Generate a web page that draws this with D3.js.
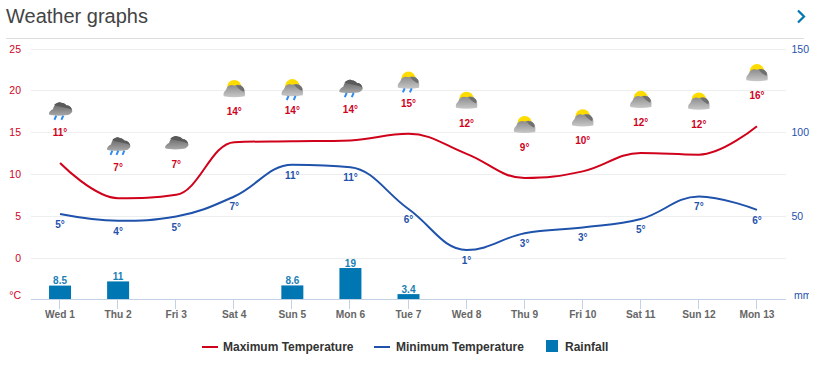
<!DOCTYPE html>
<html><head><meta charset="utf-8">
<script src="https://cdn.jsdelivr.net/npm/d3@7"></script>
<style>html,body{margin:0;padding:0;background:#fff}svg{display:block}text{font-family:"Liberation Sans",Arial,sans-serif}</style>
</head><body><div id="chart"></div>
<script>
const days=["Wed 1","Thu 2","Fri 3","Sat 4","Sun 5","Mon 6","Tue 7","Wed 8","Thu 9","Fri 10","Sat 11","Sun 12","Mon 13"];
const maxTemp=[11.3,7.1,7.5,13.8,13.9,14,14.8,12.4,9.5,10.3,12.5,12.3,15.7];
const minTemp=[5.2,4.4,4.9,7.3,11.1,10.8,5.8,0.9,2.9,3.6,4.6,7.3,5.7];
const maxLabels=[11,7,7,14,14,14,15,12,9,10,12,12,16];
const minLabels=[5,4,5,7,11,11,6,1,3,3,5,7,6];
const rainfall=[8.5,11,null,null,8.6,19,3.4,null,null,null,null,null,null];
const icons=["rain","rain","cloud","sun","sunrain","rain","sunrain","sun","sun","sun","sun","sun","sun"];
const dropCounts=[2,3,0,0,2,2,2,0,0,0,0,0,0];
const tempTicks=[0,5,10,15,20,25];
const rainTicks=[50,100,150];
const legendItems=["Maximum Temperature","Minimum Temperature","Rainfall"];
const RED="#d0021b",BLUE="#1f52ab",BAR="#0077b3";

const W=819,H=377,L=31,R=786,T=48.5,B=299.3;
const svg=d3.select("#chart").append("svg").attr("width",W).attr("height",H);
const x=d3.scaleBand().domain(d3.range(days.length)).range([L,R]);
const cx=i=>x(i)+x.bandwidth()/2;
const y=d3.scaleLinear().domain([-5,25]).range([B,T]);
const yr=d3.scaleLinear().domain([0,150]).range([B,T]);

// spline curve factory for d3.line (control points pulled towards neighbours, clamped at extremes)
function splineCurve(context){
  let pts=[];
  return {
    areaStart(){},areaEnd(){},
    lineStart(){pts=[];},
    point(a,b){pts.push([+a,+b]);},
    lineEnd(){
      const s=1.5,dn=2.5,rc=[],lc=[];
      pts.forEach((p,i)=>{
        const a=pts[i-1],n=pts[i+1];
        if(!a||!n){lc[i]=p.slice();rc[i]=p.slice();return;}
        const lx=(s*p[0]+a[0])/dn,rx=(s*p[0]+n[0])/dn;
        let ly=(s*p[1]+a[1])/dn,ry=(s*p[1]+n[1])/dn;
        const c=((ry-ly)*(rx-p[0]))/(rx-lx)+p[1]-ry;
        ly+=c;ry+=c;
        if(ly>a[1]&&ly>p[1]){ly=Math.max(a[1],p[1]);ry=2*p[1]-ly;}
        else if(ly<a[1]&&ly<p[1]){ly=Math.min(a[1],p[1]);ry=2*p[1]-ly;}
        if(ry>n[1]&&ry>p[1]){ry=Math.max(n[1],p[1]);ly=2*p[1]-ry;}
        else if(ry<n[1]&&ry<p[1]){ry=Math.min(n[1],p[1]);ly=2*p[1]-ry;}
        lc[i]=[lx,ly];rc[i]=[rx,ry];
      });
      pts.forEach((p,i)=>{
        if(i===0)context.moveTo(p[0],p[1]);
        else context.bezierCurveTo(rc[i-1][0],rc[i-1][1],lc[i][0],lc[i][1],p[0],p[1]);
      });
    }
  };
}

svg.append("text").attr("x",6).attr("y",23).attr("font-size",20).attr("fill","#444").text("Weather graphs");
svg.append("line").attr("x1",6).attr("x2",804).attr("y1",38.5).attr("y2",38.5).attr("stroke","#ddd");
svg.append("path").attr("d","M798 10.5L804 16.5L798 22.5").attr("fill","none").attr("stroke",BAR).attr("stroke-width",2.2);

svg.append("g").selectAll("line").data(tempTicks).join("line")
 .attr("x1",L).attr("x2",R).attr("y1",d=>Math.round(y(d))+.5).attr("y2",d=>Math.round(y(d))+.5).attr("stroke","#eceef0");

const ly=svg.append("g").attr("font-size",10.5).attr("fill",RED).attr("text-anchor","end");
ly.selectAll("text").data(tempTicks).join("text").attr("x",21).attr("y",d=>y(d)+4).text(d=>d);
ly.append("text").attr("x",21).attr("y",299).text("°C");
const ry=svg.append("g").attr("font-size",10.5).attr("fill",BLUE);
ry.selectAll("text").data(rainTicks).join("text").attr("x",791.5).attr("y",d=>yr(d)+4).text(d=>d);
svg.append("clipPath").attr("id","mmclip").append("rect").attr("x",790).attr("y",280).attr("width",19).attr("height",24);
svg.append("text").attr("x",794).attr("y",299).attr("font-size",10.5).attr("fill",BLUE).attr("clip-path","url(#mmclip)").text("mm");

// rainfall
const rainIdx=d3.range(days.length).filter(i=>rainfall[i]!=null);
svg.append("g").selectAll("rect").data(rainIdx).join("rect")
 .attr("x",i=>cx(i)-11).attr("width",22).attr("y",i=>yr(rainfall[i])+.5).attr("height",i=>B-yr(rainfall[i])-.5).attr("fill",BAR);
svg.append("g").attr("font-size",10).attr("font-weight","bold").attr("fill","#1a7fb5").attr("text-anchor","middle")
 .selectAll("text").data(rainIdx).join("text").attr("x",i=>cx(i)).attr("y",i=>yr(rainfall[i])-1).text(i=>rainfall[i]);

// x axis
svg.append("line").attr("x1",L).attr("x2",R).attr("y1",299.5).attr("y2",299.5).attr("stroke","#c4d0e4");
svg.append("g").selectAll("line").data(d3.range(days.length)).join("line")
 .attr("x1",i=>Math.round(cx(i))-.5).attr("x2",i=>Math.round(cx(i))-.5).attr("y1",300).attr("y2",309).attr("stroke","#c4d0e4");
svg.append("g").attr("font-size",10.2).attr("font-weight","bold").attr("fill","#666").attr("text-anchor","middle")
 .selectAll("text").data(days).join("text").attr("x",(d,i)=>cx(i)).attr("y",318).text(d=>d);

// lines
const line=d3.line().x((d,i)=>cx(i)).y(d=>y(d)).curve(splineCurve);
svg.append("path").attr("d",line(maxTemp)).attr("fill","none").attr("stroke",RED).attr("stroke-width",2);
svg.append("path").attr("d",line(minTemp)).attr("fill","none").attr("stroke",BLUE).attr("stroke-width",2);

// labels
svg.append("g").attr("font-size",10).attr("font-weight","bold").attr("fill",RED).attr("text-anchor","middle")
 .selectAll("text").data(maxLabels).join("text").attr("x",(d,i)=>cx(i)).attr("y",(d,i)=>y(maxTemp[i])-27).text(d=>d+"°");
svg.append("g").attr("font-size",10).attr("font-weight","bold").attr("fill",BLUE).attr("text-anchor","middle")
 .selectAll("text").data(minLabels).join("text").attr("x",(d,i)=>cx(i)).attr("y",(d,i)=>y(minTemp[i])+14).text(d=>d+"°");

// icons
const defs=svg.append("defs");
const g1=defs.append("linearGradient").attr("id","cl").attr("x1",0).attr("x2",0).attr("y1",0).attr("y2",1);
g1.append("stop").attr("offset",0).attr("stop-color","#5f5f5f");g1.append("stop").attr("offset",1).attr("stop-color","#a8a8a8");
const g2=defs.append("linearGradient").attr("id","cl2").attr("x1",0).attr("x2",0).attr("y1",0).attr("y2",1);
g2.append("stop").attr("offset",0).attr("stop-color","#8a8a8a");g2.append("stop").attr("offset",1).attr("stop-color","#c8c8c8");
defs.append("filter").attr("id","soft").append("feGaussianBlur").attr("stdDeviation",0.35);
const ic=svg.append("g").attr("filter","url(#soft)").selectAll("g").data(icons).join("g")
 .attr("transform",(d,i)=>`translate(${cx(i)},${y(maxTemp[i])-52})`);
ic.each(function(t,i){
  const g=d3.select(this);
  if(t.startsWith("sun")){
    g.append("circle").attr("cx",0).attr("cy",-3).attr("r",7.2).attr("fill","#ffdc00");
    g.append("path").attr("d","M-10.5 6C-11.5 2 -9 1 -8 -1C-7 -4.5 -3 -6 0 -4.5C3 -6 7 -5.5 8.5 -3C11 -1.5 11 3.5 10.5 6Q0 8 -10.5 6Z").attr("fill","url(#cl2)");
    g.append("path").attr("d","M2 -4.5C5 -5.5 8 -4.5 9 -2.5C10.5 -1 10 1 9 1.5C7 0 4 -1 2 -4.5Z").attr("fill","#6f6f6f");
  } else {
    const dy=t==="cloud"?2:0;
    g.append("path").attr("transform",`translate(0,${dy})`)
     .attr("d","M-11 3.5C-11.5 0.5 -8.5 -1 -7 -2C-6 -7 -1 -10 2 -8C5 -8 6 -5.5 7 -5.5C10 -5.5 11.5 -3 12 -1C13 0.5 11 2.5 9.5 3.5C6 5 -8 5 -11 3.5Z").attr("fill","url(#cl)");
    g.append("path").attr("transform",`translate(0,${dy})`)
     .attr("d","M-6 -6C-3 -9 0 -9.5 2 -8C5 -8 6 -5.5 7 -5.5C10 -5.5 11.5 -3 12 -1C7 -4 0 -4 -6 -6Z").attr("fill","#5a5a5a");
  }
  const n=dropCounts[i];
  if(n>0){
    const xs=n===3?[-7,-1,5]:[-5,2];
    const top=t==="rain"?4.5:6.5;
    g.selectAll("path.d").data(xs).join("path").attr("class","d")
     .attr("d",d=>`M${d+1.2} ${top}L${d-.6} ${top+4.2}`).attr("stroke","#2f8cf0").attr("stroke-width",2).attr("fill","none");
  }
});

// legend
const lg=svg.append("g").attr("font-size",12).attr("font-weight","bold").attr("fill","#333");
lg.append("line").attr("x1",202).attr("x2",218).attr("y1",347).attr("y2",347).attr("stroke",RED).attr("stroke-width",2);
lg.append("text").attr("x",223).attr("y",351).text(legendItems[0]);
lg.append("line").attr("x1",374).attr("x2",390).attr("y1",347).attr("y2",347).attr("stroke",BLUE).attr("stroke-width",2);
lg.append("text").attr("x",396).attr("y",351).text(legendItems[1]);
lg.append("rect").attr("x",546).attr("y",340).attr("width",12).attr("height",12).attr("fill",BAR);
lg.append("text").attr("x",565).attr("y",351).text(legendItems[2]);
</script></body></html>
